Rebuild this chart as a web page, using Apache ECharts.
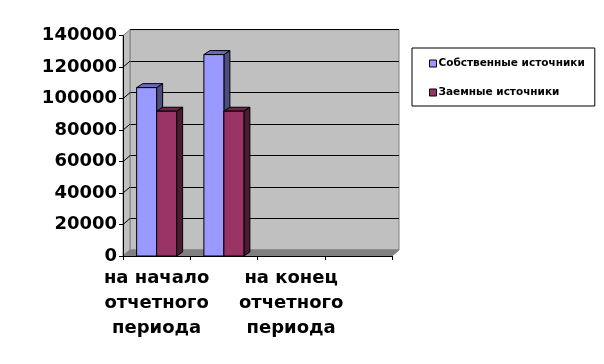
<!DOCTYPE html>
<html><head><meta charset="utf-8">
<script src="https://cdn.jsdelivr.net/npm/echarts@6/dist/echarts.min.js"></script>
<style>html,body{margin:0;padding:0;background:#fff}#c{width:604px;height:364px}</style>
</head><body><div id="c"></div>
<script>
var categories = ["на начало\nотчетного\nпериода", "", "на конец\nотчетного\nпериода", ""];
var seriesNames = ["Собственные источники", "Заемные источники"];
var ownSources = [107000, 128000, null, null];
var borrowedSources = [92000, 92000, null, null];
var yTicks = [0, 20000, 40000, 60000, 80000, 100000, 120000, 140000];

var DX = 7, DY = -6;      // wall depth
var BDX = 6, BDY = -4;    // bar depth
var BAR_W = 20;

var chart = echarts.init(document.getElementById('c'), null, {renderer: 'canvas'});

function shade(c, f) {
  var r = parseInt(c.substr(1,2),16), g = parseInt(c.substr(3,2),16), b = parseInt(c.substr(5,2),16);
  return 'rgb(' + Math.round(r*f) + ',' + Math.round(g*f) + ',' + Math.round(b*f) + ')';
}

function barRender(seriesIdx, color) {
  return function (params, api) {
    var v = api.value(1);
    if (v == null || isNaN(v)) return;
    var top = api.coord([api.value(0), v]);
    var base = api.coord([api.value(0), 0]);
    var x = seriesIdx === 0 ? top[0] - BAR_W : top[0];
    var yT = top[1], y0 = base[1], w = BAR_W;
    var st = {stroke: '#000', lineWidth: 1};
    return {
      type: 'group',
      children: [
        {type: 'polygon', shape: {points: [[x+w, yT], [x+w+BDX, yT+BDY], [x+w+BDX, y0+BDY], [x+w, y0]]},
         style: Object.assign({fill: shade(color, 0.5)}, st)},
        {type: 'polygon', shape: {points: [[x, yT], [x+BDX, yT+BDY], [x+w+BDX, yT+BDY], [x+w, yT]]},
         style: Object.assign({fill: shade(color, 0.7)}, st)},
        {type: 'rect', shape: {x: x, y: yT, width: w, height: y0 - yT},
         style: Object.assign({fill: color}, st)}
      ]
    };
  };
}

function wallRender(params, api) {
  var ch = [];
  var left = api.coord([0, 0])[0] - api.size([1, 0])[0] / 2;
  var right = left + api.size([1, 0])[0] * categories.length;
  var b0 = api.coord([0, yTicks[0]])[1];
  var bT = api.coord([0, yTicks[yTicks.length - 1]])[1];
  ch.push({type: 'polygon', shape: {points: [[left, bT], [left+DX, bT+DY], [left+DX, b0+DY], [left, b0]]},
           style: {fill: '#c0c0c0', stroke: '#808080', lineWidth: 1}});
  ch.push({type: 'polygon', shape: {points: [[left, b0], [left+DX, b0+DY], [right+DX, b0+DY], [right, b0]]},
           style: {fill: '#808080', stroke: '#808080', lineWidth: 1}});
  for (var i = 1; i < yTicks.length - 1; i++) {
    var y = api.coord([0, yTicks[i]])[1];
    ch.push({type: 'line', shape: {x1: left, y1: y, x2: left+DX, y2: y+DY}, style: {stroke: '#000', lineWidth: 1}});
  }
  return {type: 'group', children: ch};
}

var catIdx = categories.map(function (c, i) { return i; });

chart.setOption({
  animation: false,
  backgroundColor: '#fff',
  textStyle: {fontFamily: 'DejaVu Sans'},
  legend: {
    data: seriesNames,
    orient: 'vertical',
    left: 412, top: 48,
    padding: [10, 10, 8, 17],
    itemGap: 18,
    itemWidth: 7, itemHeight: 7,
    icon: 'rect',
    itemStyle: {borderColor: '#000', borderWidth: 1},
    backgroundColor: '#fff',
    borderColor: '#000', borderWidth: 1, borderRadius: 0,
    textStyle: {fontFamily: 'DejaVu Sans', fontWeight: 'bold', fontSize: 10.5, color: '#000', padding: [0, 0, 0, -3]}
  },
  grid: [
    {left: 123, right: 212, top: 35.7, bottom: 108, containLabel: false},
    {left: 130, right: 205, top: 29.7, bottom: 114, containLabel: false, show: true,
     backgroundColor: '#c0c0c0', borderColor: '#808080', borderWidth: 1, z: 0}
  ],
  xAxis: [
    {type: 'category', data: categories, gridIndex: 0, boundaryGap: true, z: 5,
     axisLine: {lineStyle: {color: '#000', width: 1}},
     axisTick: {show: true, length: 4, lineStyle: {color: '#000'}},
     axisLabel: {interval: 0, margin: 10, fontFamily: 'DejaVu Sans', fontWeight: 'bold', fontSize: 18,
                 lineHeight: 25, color: '#000'}},
    {type: 'category', data: categories, gridIndex: 1, show: false}
  ],
  yAxis: [
    {type: 'value', gridIndex: 0, min: 0, max: 140000, interval: 20000, z: 5,
     axisLine: {show: true, lineStyle: {color: '#000'}},
     axisTick: {show: true, length: 4, lineStyle: {color: '#000'}},
     splitLine: {show: false},
     axisLabel: {margin: 6, fontFamily: 'DejaVu Sans', fontWeight: 'bold', fontSize: 18, color: '#000',
                 formatter: function (v) { return String(v); }}},
    {type: 'value', gridIndex: 1, min: 0, max: 140000, interval: 20000,
     axisLine: {show: false}, axisTick: {show: false}, axisLabel: {show: false},
     splitLine: {show: true, lineStyle: {color: '#000', width: 1}}}
  ],
  series: [
    {type: 'custom', name: 'walls', xAxisIndex: 0, yAxisIndex: 0, z: 1, silent: true,
     data: [[0, 0]], renderItem: wallRender},
    {type: 'custom', name: seriesNames[0], xAxisIndex: 0, yAxisIndex: 0, z: 2,
     itemStyle: {color: '#9999ff'},
     data: catIdx.map(function (i) { return [i, ownSources[i]]; }),
     renderItem: barRender(0, '#9999ff')},
    {type: 'custom', name: seriesNames[1], xAxisIndex: 0, yAxisIndex: 0, z: 3,
     itemStyle: {color: '#993366'},
     data: catIdx.map(function (i) { return [i, borrowedSources[i]]; }),
     renderItem: barRender(1, '#993366')}
  ]
});
</script>
</body></html>
